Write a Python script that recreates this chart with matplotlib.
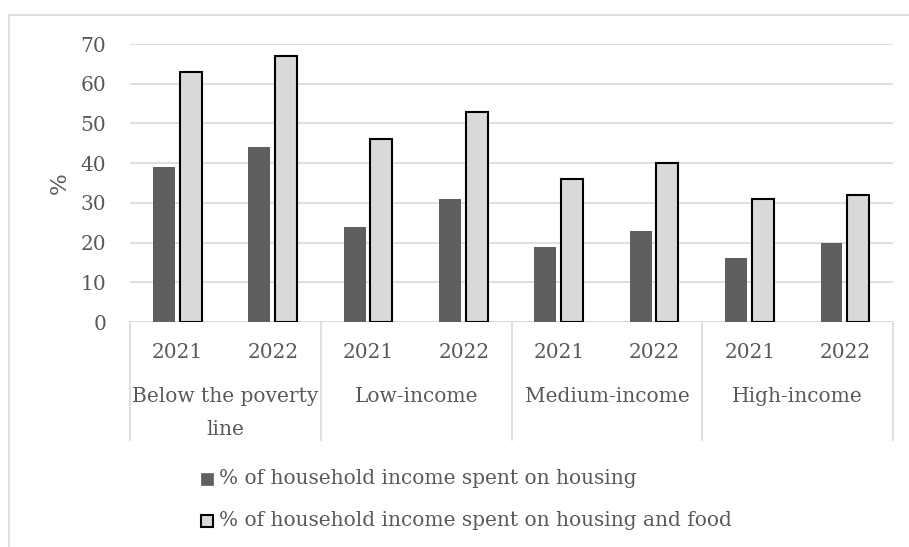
import numpy as np
import matplotlib.pyplot as plt
from matplotlib.patches import Rectangle
from matplotlib.lines import Line2D

# Data
groups = ['Below the poverty\nline', 'Low-income', 'Medium-income', 'High-income']
years = ['2021', '2022']
housing = [39, 44, 24, 31, 19, 23, 16, 20]
housing_food = [63, 67, 46, 53, 36, 40, 31, 32]
series_names = ['% of household income spent on housing',
                '% of household income spent on housing and food']

plt.rcParams['font.family'] = ['DejaVu Serif']
text_color = '#595959'
grid_color = '#d9d9d9'
fs = 14.5

W, H = 909, 547
fig = plt.figure(figsize=(W / 100, H / 100), dpi=100)

# chart border (top and left visible)
fig.add_artist(Line2D([9 / W, 9 / W], [0, 1 - 15 / H], color=grid_color, lw=1.2))
fig.add_artist(Line2D([9 / W, 1], [1 - 15 / H, 1 - 15 / H], color=grid_color, lw=1.2))

left, right, top, bottom = 130, 893, 44, 322
ax = fig.add_axes([left / W, 1 - bottom / H, (right - left) / W, (bottom - top) / H])

x = np.arange(len(housing))
bw = 0.23
ax.bar(x - 0.145, housing, width=bw, color='#5f5f5f', zorder=3)
ax.bar(x + 0.135, housing_food, width=bw, color='#d9d9d9', edgecolor='black',
       linewidth=1.5, zorder=3)

ax.set_xlim(-0.5, len(housing) - 0.5)
ax.set_ylim(0, 70)
ax.set_yticks(range(0, 71, 10))
ax.yaxis.grid(True, color=grid_color, lw=1.2)
ax.set_axisbelow(True)
for s in ax.spines.values():
    s.set_visible(False)
ax.tick_params(axis='y', length=0, labelsize=fs, labelcolor=text_color, pad=17)
ax.set_xticks([])
ax.set_ylabel('%', fontsize=fs + 2, color=text_color)
ax.yaxis.set_label_coords(-0.077, 0.5)

# category axis: baseline, group dividers, year and group labels
px = 1.0 / (bottom - top)
ax.plot([-0.5, len(housing) - 0.5], [0, 0], color=grid_color, lw=1.2, zorder=2)
for b in np.arange(-0.5, len(housing), 2):
    ax.plot([b, b], [0, -118 * px], transform=ax.get_xaxis_transform(),
            color=grid_color, lw=1.2, clip_on=False)
for i in x:
    ax.text(i, -31 * px, years[i % 2], transform=ax.get_xaxis_transform(),
            ha='center', va='center', fontsize=fs, color=text_color)
for g, name in enumerate(groups):
    ax.text(2 * g + 0.5, -65 * px, name, transform=ax.get_xaxis_transform(),
            ha='center', va='top', fontsize=fs, color=text_color, linespacing=1.95)

# legend
for k, (name, fc, ec) in enumerate(zip(series_names, ['#5f5f5f', '#d9d9d9'],
                                        ['#5f5f5f', 'black'])):
    yc = 479 + k * 42
    fig.add_artist(Rectangle((201 / W, 1 - (yc + 6) / H), 12 / W, 12 / H,
                             facecolor=fc, edgecolor=ec, lw=1.5 if k else 0.5))
    fig.text(219 / W, 1 - yc / H, name, ha='left', va='center',
             fontsize=fs, color=text_color)

fig.savefig('out.png', dpi=100)
